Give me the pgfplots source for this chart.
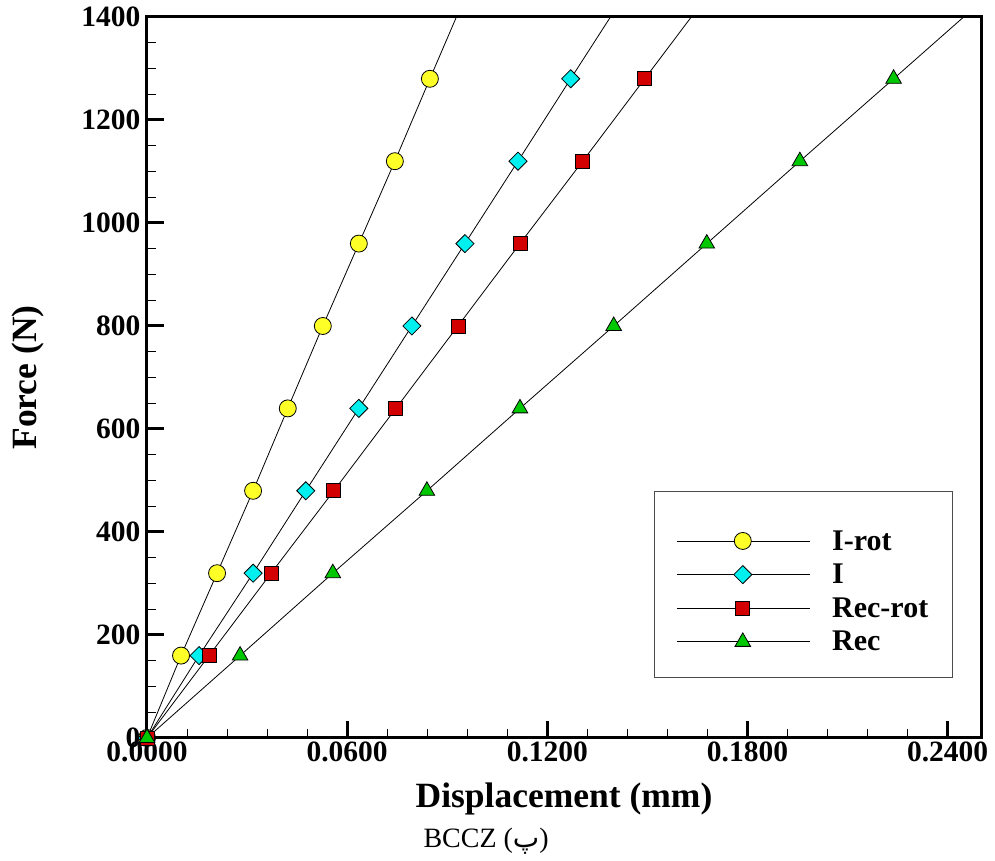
\documentclass[border=0pt]{standalone}
\usepackage{fontspec}
\setmainfont{Liberation Serif}
\newfontfamily\arabicfont[Script=Arabic]{DejaVu Sans}
\TeXXeTstate=1
\usepackage{pgfplots}
\pgfplotsset{compat=1.18}
\definecolor{myyellow}{RGB}{255,255,40}
\definecolor{mycyan}{RGB}{0,240,240}
\definecolor{myred}{RGB}{210,0,0}
\definecolor{mygreen}{RGB}{0,200,0}
\begin{document}
\begin{tikzpicture}
\begin{axis}[
  name=ax,
  at={(0,0)}, anchor=south west,
  width=834pt, height=721pt, scale only axis,
  xmin=0, xmax=0.25, ymin=0, ymax=1400,
  xtick={0,0.06,0.12,0.18,0.24},
  minor x tick num=4,
  ytick={0,200,400,600,800,1000,1200,1400},
  minor y tick num=3,
  tick pos=left, tick align=inside,
  axis line style={line width=3pt},
  major tick length=17pt, minor tick length=9pt,
  every major tick/.style={line width=3pt, black},
  every minor tick/.style={line width=0.8pt, black},
  scaled x ticks=false,
  xticklabel style={/pgf/number format/fixed, /pgf/number format/fixed zerofill, /pgf/number format/precision=4},
  yticklabel style={/pgf/number format/set thousands separator={}, /tikz/xshift=-3pt},
  /pgf/number format/assume math mode=true,
  ticklabel style={font=\fontsize{29.5}{29.5}\selectfont\bfseries},
  legend style={at={(0.6079,0.3426)}, anchor=north west,
    draw=black!70, line width=0.8pt,
    font=\fontsize{30}{30}\selectfont\bfseries,
    inner xsep=22pt, inner ysep=23pt,
    row sep=8.5pt,
    /tikz/every odd column/.append style={column sep=20pt}},
  legend cell align=left,
  legend image code/.code={\draw[mark repeat=2,mark phase=2,#1] plot coordinates {(0pt,0pt) (66pt,0pt) (133pt,0pt)};},
]
% spacer row at the top of the legend
\addlegendimage{empty legend}
\addlegendentry[inner sep=0pt, text height=5.5pt, text depth=0pt]{}
% line extensions up to the top frame
\addplot[black, line width=0.8pt, forget plot] coordinates {(0.0848,1280) (0.0954,1440)};
\addplot[black, line width=0.8pt, forget plot] coordinates {(0.1270,1280) (0.1429,1440)};
\addplot[black, line width=0.8pt, forget plot] coordinates {(0.1492,1280) (0.1678,1440)};
\addplot[black, line width=0.8pt, forget plot] coordinates {(0.2238,1280) (0.2518,1440)};

\addplot[black, line width=0.8pt, mark=*, mark size=8.5pt,
  mark options={fill=myyellow, draw=black, line width=0.8pt}]
  coordinates {(0,0) (0.0102,160) (0.0210,320) (0.0318,480) (0.0422,640) (0.0527,800) (0.0635,960) (0.0743,1120) (0.0848,1280)};
\addlegendentry{I-rot}
\addplot[black, line width=0.8pt, mark=square*, mark size=6.4pt,
  mark options={fill=mycyan, draw=black, line width=0.8pt, rotate=45}]
  coordinates {(0,0) (0.0156,160) (0.0318,320) (0.0476,480) (0.0635,640) (0.0794,800) (0.0953,960) (0.1112,1120) (0.1270,1280)};
\addlegendentry{I}
\addplot[black, line width=0.8pt, mark=square*, mark size=7pt,
  mark options={fill=myred, draw=black, line width=0.8pt}]
  coordinates {(0,0) (0.0186,160) (0.0372,320) (0.0560,480) (0.0746,640) (0.0932,800) (0.1118,960) (0.1306,1120) (0.1492,1280)};
\addlegendentry{Rec-rot}
\addplot[black, line width=0.8pt, mark=triangle*, mark size=9pt,
  mark options={fill=mygreen, draw=black, line width=0.8pt}]
  coordinates {(0,0) (0.0279,160) (0.0557,320) (0.0839,480) (0.1118,640) (0.1399,800) (0.1678,960) (0.1957,1120) (0.2238,1280)};
\addlegendentry{Rec}
\end{axis}
\node[anchor=base, font=\fontsize{35.5}{35.5}\selectfont\bfseries] at ([yshift=-70pt]ax.south) {Displacement (mm)};
\node[anchor=base, rotate=90, font=\fontsize{35.5}{35.5}\selectfont\bfseries] at ([xshift=-110pt]ax.west) {Force (N)};
\node[anchor=base west, font=\fontsize{28}{28}\selectfont] at ([xshift=273pt,yshift=-109pt]ax.south west) {BCCZ ({\arabicfont\beginR پ\endR})};
\pgfresetboundingbox
\path ([xshift=-147pt,yshift=-123pt]ax.south west) rectangle ([xshift=14pt,yshift=17pt]ax.north east);
\end{tikzpicture}
\end{document}
